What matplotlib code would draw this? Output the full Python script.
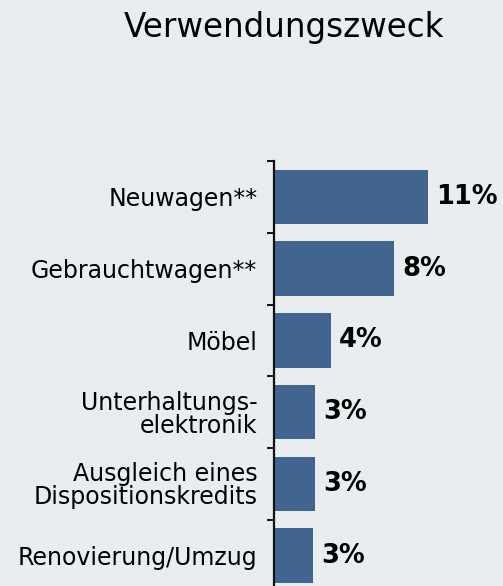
import numpy as np
import matplotlib
matplotlib.use("Agg")
import matplotlib.pyplot as plt
from matplotlib.ticker import FixedLocator

# Daten (Anteile in %)
categories = ["Neuwagen**", "Gebrauchtwagen**", "Möbel",
              "Unterhaltungs-\nelektronik", "Ausgleich eines\nDispositionskredits",
              "Renovierung/Umzug"]
values = [10.6, 8.3, 3.9, 2.8, 2.8, 2.7]
value_labels = ["11%", "8%", "4%", "3%", "3%", "3%"]

bg = "#e9edef"
bar_color = "#42658f"

fig = plt.figure(figsize=(5.03, 5.86), dpi=100, facecolor=bg)
W, H = 503, 586
ax = fig.add_axes([274 / W, -5.5 / H, 229 / W, 430.5 / H])
ax.set_facecolor(bg)

y = np.arange(len(categories))
ax.barh(y, values, height=0.76, color=bar_color, align="center")

for yi, v, lab in zip(y, values, value_labels):
    ax.annotate(lab, (v, yi), xytext=(6, 0), textcoords="offset points",
                ha="left", va="center", fontsize=18.5, fontweight="bold",
                color="black")

ax.set_xlim(0, 229 / 14.5)
ax.set_ylim(len(categories) - 0.5, -0.5)

ax.set_yticks(y)
ax.set_yticklabels(categories, fontsize=17, linespacing=0.95)
ax.yaxis.set_minor_locator(FixedLocator(np.arange(-0.5, len(categories), 1.0)))
ax.tick_params(axis="y", which="major", length=0, pad=12)
ax.tick_params(axis="y", which="minor", length=5, width=1.4, color="#111111",
               direction="out")
for lbl in ax.get_yticklabels():
    lbl.set_horizontalalignment("right")
    lbl.set_multialignment("right")

ax.xaxis.set_visible(False)
for s in ["top", "right", "bottom"]:
    ax.spines[s].set_visible(False)
ax.spines["left"].set_linewidth(1.6)
ax.spines["left"].set_color("#111111")

fig.text(284 / W, 1 - 27 / H, "Verwendungszweck", ha="center", va="center",
         fontsize=23.5, color="black")

fig.savefig("out.png", dpi=100, facecolor=bg)
